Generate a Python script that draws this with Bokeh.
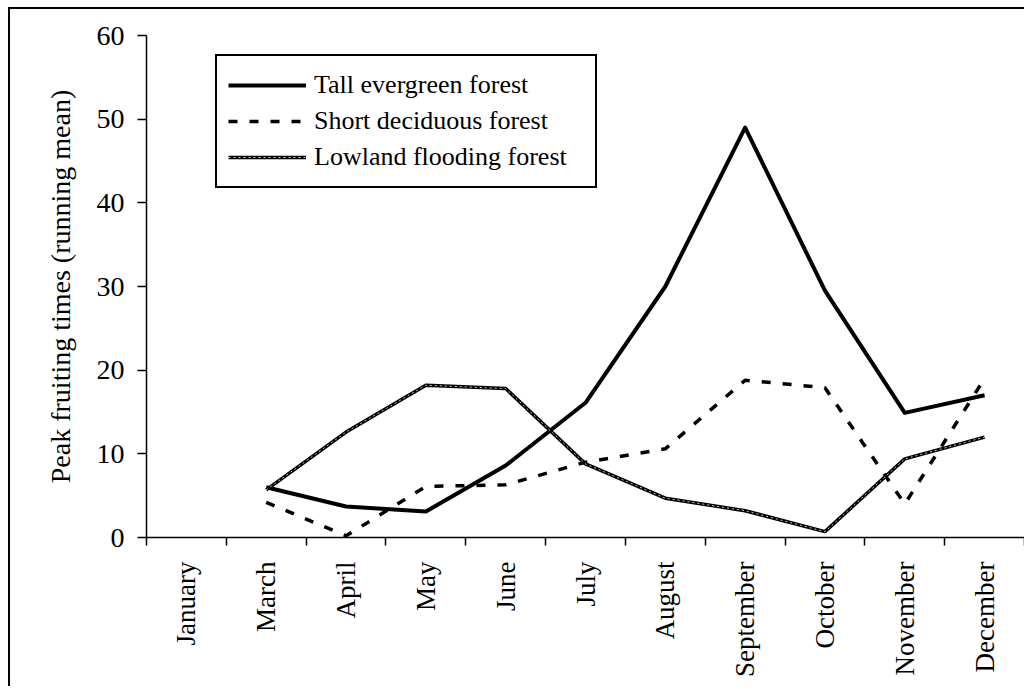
import numpy as np
from bokeh.plotting import figure
from bokeh.models import Range1d, FixedTicker, Legend, LegendItem, ColumnDataSource
from bokeh.embed import file_html
from bokeh.resources import INLINE

months = ["January", "March", "April", "May", "June", "July", "August",
          "September", "October", "November", "December"]
tall_evergreen = [np.nan, 6.0, 3.7, 3.1, 8.6, 16.1, 30.0, 49.0, 29.5, 14.9, 17.0]
short_deciduous = [np.nan, 4.2, 0.2, 6.1, 6.3, 9.0, 10.6, 18.8, 17.9, 4.0, 19.0]
lowland_flooding = [np.nan, 5.7, 12.6, 18.2, 17.8, 8.8, 4.7, 3.2, 0.7, 9.4, 12.0]
y_ticks = [0, 10, 20, 30, 40, 50, 60]

xpos = [i + 0.5 for i in range(len(months))]
src = ColumnDataSource(dict(x=xpos, tall=tall_evergreen, short=short_deciduous, low=lowland_flooding))

FONT = "Liberation Serif"

p = figure(width=1016, height=679, output_backend="svg", toolbar_location=None,
           x_range=Range1d(0, len(months)), y_range=Range1d(0, 60),
           min_border_left=136, min_border_right=2, min_border_top=26, min_border_bottom=151)
p.outline_line_color = None
p.xgrid.visible = False
p.ygrid.visible = False
p.styles = {"margin-left": "8px", "margin-top": "7px",
            "border-left": "2px solid black", "border-top": "2px solid black"}

r_tall = p.line("x", "tall", source=src, line_color="black", line_width=4, line_join="round")
r_short = p.line("x", "short", source=src, line_color="black", line_width=3.5, line_dash="9 12")
r_low1 = p.line("x", "low", source=src, line_color="black", line_width=3.5)
r_low2 = p.line("x", "low", source=src, line_color="white", line_width=0.8, line_dash="2 3")

# x axis
xa = p.xaxis[0]
xa.ticker = FixedTicker(ticks=xpos, minor_ticks=list(range(len(months) + 1)))
xa.major_label_overrides = {x: m for x, m in zip(xpos, months)}
xa.major_label_orientation = np.pi / 2
xa.major_tick_line_color = None
xa.major_tick_out = 0
xa.major_tick_in = 0
xa.minor_tick_line_color = "black"
xa.minor_tick_out = 8
xa.minor_tick_in = 0
xa.minor_tick_line_width = 1.5
xa.major_label_standoff = 16
xa.major_label_text_font = FONT
xa.major_label_text_font_size = "27px"
xa.major_label_text_color = "black"
xa.axis_line_color = "black"
xa.axis_line_width = 1.5

# y axis
ya = p.yaxis[0]
ya.ticker = FixedTicker(ticks=y_ticks)
ya.minor_tick_line_color = None
ya.major_tick_out = 9
ya.major_tick_in = 0
ya.major_tick_line_color = "black"
ya.major_tick_line_width = 1.5
ya.major_label_standoff = 13
ya.major_label_text_font = FONT
ya.major_label_text_font_size = "28px"
ya.major_label_text_color = "black"
ya.axis_line_color = "black"
ya.axis_line_width = 1.5
ya.axis_label = "Peak fruiting times (running mean)"
ya.axis_label_text_font = FONT
ya.axis_label_text_font_size = "28px"
ya.axis_label_text_font_style = "normal"
ya.axis_label_text_color = "black"
ya.axis_label_standoff = 18

legend = Legend(items=[
    LegendItem(label="Tall evergreen forest", renderers=[r_tall]),
    LegendItem(label="Short deciduous forest", renderers=[r_short]),
    LegendItem(label="Lowland flooding forest", renderers=[r_low1, r_low2]),
], location=(69, 349))
legend.label_text_font = FONT
legend.label_text_font_size = "26px"
legend.label_text_color = "black"
legend.border_line_color = "black"
legend.border_line_alpha = 1
legend.border_line_width = 2
legend.background_fill_alpha = 1
legend.padding = 11
legend.spacing = 0
legend.label_height = 36
legend.glyph_height = 36
legend.glyph_width = 78
legend.label_standoff = 8
legend.label_width = 270
legend.margin = 0
p.add_layout(legend, "center")

open("out.html", "w").write(file_html(p, INLINE))
